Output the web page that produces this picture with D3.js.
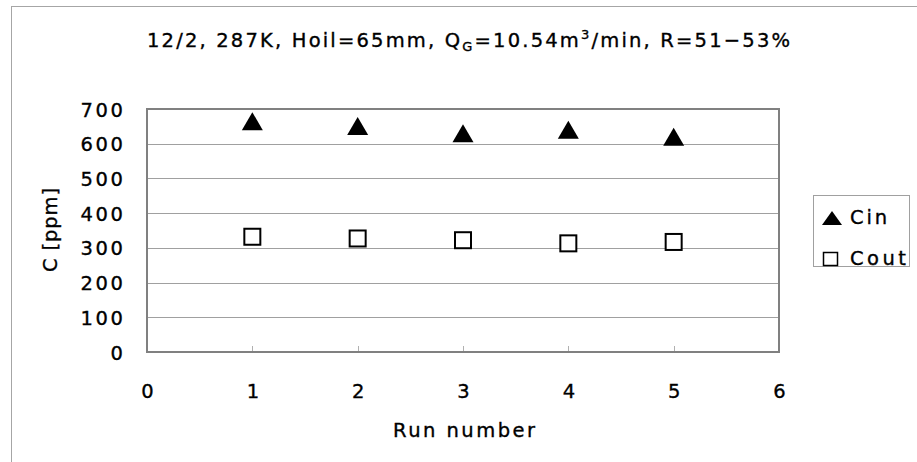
<!DOCTYPE html>
<html><head><meta charset="utf-8">
<script src="https://cdn.jsdelivr.net/npm/d3@7"></script>
<style>body{margin:0;background:#fff}svg{display:block}text{font-family:"DejaVu Sans",sans-serif;fill:#000;stroke:#000;stroke-width:0.35px}</style>
</head><body>
<script>
const runs = [1, 2, 3, 4, 5];
const cin = [665, 651, 630, 640, 620];
const cout = [332, 327, 322, 313, 317];
const xTicks = [0, 1, 2, 3, 4, 5, 6];
const yTicks = [0, 100, 200, 300, 400, 500, 600, 700];
const seriesNames = ["Cin", "Cout"];

const W = 917, H = 462, FS = 19.5, FF = '"DejaVu Sans",sans-serif';
const svg = d3.select("body").append("svg").attr("width", W).attr("height", H);

// stretch text spacing so that its width matches the target
function fit(sel, target) {
  const node = sel.node();
  const n = node.getNumberOfChars();
  const w = node.getComputedTextLength();
  const ls = n > 1 ? (target - w) / (n - 1) : 0;
  sel.style("letter-spacing", ls + "px");
  return ls;
}

// chart area border (top/left visible)
svg.append("rect").attr("x", 11.5).attr("y", 6.5).attr("width", 1000).attr("height", 1000)
  .attr("fill", "none").attr("stroke", "#a6a6a6").attr("stroke-width", 1);

const L = 147, R = 779, T = 109, B = 352;
const x = d3.scaleLinear().domain([0, 6]).range([L, R]);
const y = d3.scaleLinear().domain([0, 700]).range([B, T]);

// gridlines
svg.append("g").selectAll("line").data(yTicks.slice(1, -1)).join("line")
  .attr("x1", L).attr("x2", R).attr("y1", d => Math.round(y(d)) + 0.5).attr("y2", d => Math.round(y(d)) + 0.5)
  .attr("stroke", "#a0a0a0").attr("stroke-width", 1);

// x tick marks inside bottom
svg.append("g").selectAll("line").data(xTicks.slice(1, -1)).join("line")
  .attr("x1", d => Math.round(x(d)) + 0.5).attr("x2", d => Math.round(x(d)) + 0.5)
  .attr("y1", B).attr("y2", B - 6).attr("stroke", "#b0b0b0").attr("stroke-width", 1);

// plot border
svg.append("rect").attr("x", L).attr("y", T).attr("width", R - L).attr("height", B - T)
  .attr("fill", "none").attr("stroke", "#808080").attr("stroke-width", 2);

// y tick labels (axis generator, then respaced)
const yAxis = d3.axisLeft(y).tickValues(yTicks).tickSize(0).tickPadding(25);
const gy = svg.append("g").attr("transform", `translate(${L},0)`).call(yAxis);
gy.select(".domain").remove();
gy.selectAll("text").attr("font-size", FS).attr("font-family", FF)
  .attr("dy", null).attr("text-anchor", "start");
gy.selectAll("text").each(function (d) {
  const t = d3.select(this);
  const n = this.getNumberOfChars();
  const w0 = this.getComputedTextLength();
  const ls = 2.6;
  t.style("letter-spacing", ls + "px");
  const w = w0 + ls * (n - 1);
  t.attr("x", (123 - L) - w).attr("y", 0).attr("dy", "0.36em");
});

// x tick labels
const xAxis = d3.axisBottom(x).tickValues(xTicks).tickFormat(d3.format("d")).tickSize(0).tickPadding(0);
const gx = svg.append("g").attr("transform", `translate(0,${B})`).call(xAxis);
gx.select(".domain").remove();
gx.selectAll("text").attr("font-size", FS).attr("font-family", FF)
  .attr("dy", null).attr("y", 398 - B);

// axis titles
const xt = svg.append("text").attr("x", 393).attr("y", 437).attr("font-size", FS).text("Run number");
fit(xt, 142);
const yt = svg.append("text").attr("transform", "translate(56.5,272) rotate(-90)")
  .attr("font-size", FS).text("C [ppm]");
fit(yt, 84);

// title
const title = svg.append("text").attr("x", 147).attr("y", 47.3).attr("font-size", FS);
title.append("tspan").text("12/2, 287K, Hoil=65mm, Q");
title.append("tspan").attr("font-size", 13).attr("dy", 4).text("G");
title.append("tspan").attr("dy", -4).text("=10.54m");
title.append("tspan").attr("font-size", 13).attr("dy", -8).text("3");
title.append("tspan").attr("dy", 8).text("/min, R=51\u221253%");
fit(title, 643);

// markers
function triPath(cx, cy, w, h) {
  return `M${cx},${cy - h / 2}L${cx + w / 2},${cy + h / 2}L${cx - w / 2},${cy + h / 2}Z`;
}
svg.append("g").selectAll("path").data(runs.map((r, i) => [r, cin[i]])).join("path")
  .attr("d", d => triPath(x(d[0]), y(d[1]), 21, 18)).attr("fill", "#000");
svg.append("g").selectAll("rect").data(runs.map((r, i) => [r, cout[i]])).join("rect")
  .attr("x", d => x(d[0]) - 8).attr("y", d => y(d[1]) - 8).attr("width", 16).attr("height", 16)
  .attr("fill", "#fff").attr("stroke", "#000").attr("stroke-width", 2);

// legend
const lg = svg.append("g");
lg.append("rect").attr("x", 813.5).attr("y", 195.5).attr("width", 96).attr("height", 71)
  .attr("fill", "#fff").attr("stroke", "#a0a0a0");
lg.append("path").attr("d", triPath(832, 218, 20, 14)).attr("fill", "#000");
lg.append("rect").attr("x", 823.5).attr("y", 252.5).attr("width", 14).attr("height", 13)
  .attr("fill", "#fff").attr("stroke", "#000").attr("stroke-width", 1.5);
const l1 = lg.append("text").attr("x", 850).attr("y", 224).attr("font-size", FS).text(seriesNames[0]);
fit(l1, 37);
const l2 = lg.append("text").attr("x", 850).attr("y", 265).attr("font-size", FS).text(seriesNames[1]);
fit(l2, 56);
</script>
</body></html>
